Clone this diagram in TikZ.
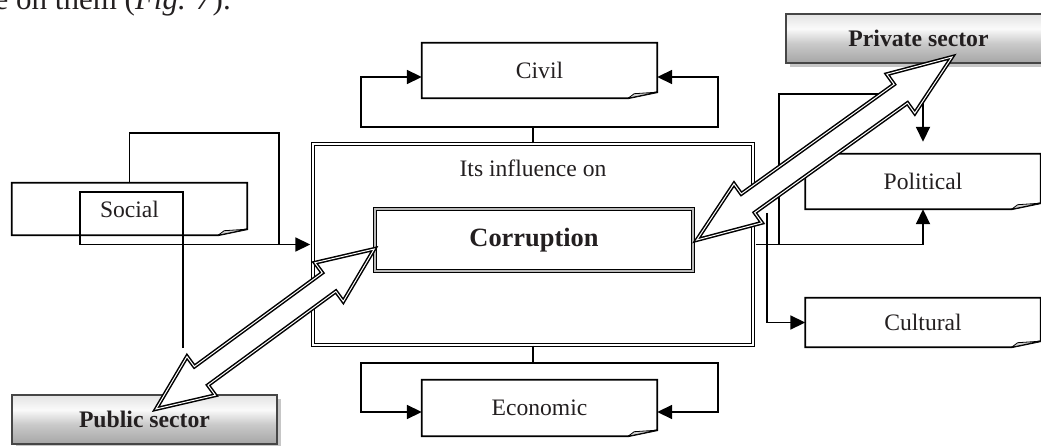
\documentclass[tikz,border=0pt]{standalone}
\usepackage{fontspec}
\setmainfont{Liberation Serif}
\usetikzlibrary{arrows.meta,calc,shadows}

\definecolor{ink}{RGB}{35,31,32}

% grey bar fill: dark at the bottom, almost white in the upper third
\pgfdeclareverticalshading{sectorfill}{100bp}{color(0bp)=(gray!70); color(25bp)=(gray!70); color(45bp)=(gray!42); color(60bp)=(white!96!gray); color(75bp)=(gray!22); color(100bp)=(gray!22)}

\tikzset{
  conn/.style={draw=black, line width=1.8pt, line join=miter},
  tip/.style={-{Triangle[length=15pt,width=14pt]}},
  twotips/.style={{Triangle[length=15pt,width=14pt]}-{Triangle[length=15pt,width=14pt]}},
  labelfont/.style={text=ink, font=\fontsize{23.6pt}{28pt}\selectfont},
  docbox/.style={minimum width=235pt, inner sep=0pt, labelfont},
  docline/.style={draw=black, line width=1.8pt, line join=miter},
  sector/.style={minimum width=265pt, minimum height=49pt, inner sep=0pt,
    shade, shading=sectorfill, draw=gray!55!black, line width=1.3pt,
    drop shadow={shadow xshift=4pt, shadow yshift=-4pt, fill=gray!45, opacity=1},
    text=ink, font=\bfseries\fontsize{23.7pt}{28pt}\selectfont},
  bigarrow/.style={fill=white, draw=black, line width=1.5pt, double=white,
    double distance=1pt, line join=miter, miter limit=20},
}

% sheet outline with a curled lower right corner around a node
\newcommand\paperoutline[1]{%
  \draw[docline] (#1.north west) -- (#1.north east) -- ([yshift=6pt]#1.south east)
    -- ([xshift=-29pt]#1.south east) -- (#1.south west) -- cycle;
  \filldraw[draw=black, line width=0.8pt, fill=gray!35, line join=miter]
    ([xshift=-29pt]#1.south east) -- ([xshift=-23pt,yshift=4.5pt]#1.south east)
    -- ([yshift=6pt]#1.south east) -- cycle;
}

% wide two-headed block arrow: from, to, head length, head half-width, shaft half-width
\newcommand\dualarrow[5]{%
  \coordinate (ha) at ($(#1)!#3!(#2)$);
  \coordinate (hb) at ($(#2)!#3!(#1)$);
  \draw[bigarrow] (#1) -- ($(ha)!#4!90:(#2)$) -- ($(ha)!#5!90:(#2)$)
    -- ($(hb)!#5!-90:(#1)$) -- ($(hb)!#4!-90:(#1)$) -- (#2)
    -- ($(hb)!#4!90:(#1)$) -- ($(hb)!#5!90:(#1)$)
    -- ($(ha)!#5!-90:(#2)$) -- ($(ha)!#4!-90:(#2)$) -- cycle;
}

\begin{document}
\begin{tikzpicture}[x=1pt, y=-1pt]
\useasboundingbox (0,0) rectangle (1041,446);
\clip (0,0) rectangle (1041,446);

% end of the preceding sentence
\node[anchor=base east, inner sep=0pt, text=ink, font=\fontsize{31pt}{36pt}\selectfont]
  (caption) at (231,10) {e on them (\textit{Fig. 7}).};

% central frame and its core
\node[draw, line width=1.4pt, double=white, double distance=1.2pt,
  minimum width=440pt, minimum height=201pt, inner sep=0pt] (infl) at (533,244.5) {};
\node[anchor=base, labelfont] (infltext) at (533,177) {Its influence on};

% spheres of influence
\node[docbox, minimum height=55pt] (civil) at (539.5,70.5) {Civil};
\node[docbox, minimum height=56pt] (econ) at (539.5,408) {Economic};
\node[docbox, minimum height=55pt] (pol) at (923,181.5) {Political};
\node[docbox, minimum height=49pt] (cult) at (923,322.5) {Cultural};
\node[docbox, minimum height=52pt] (social) at (129.5,209) {Social};

% sectors
\node[sector] (pub) at (144.5,419.5) {Public sector};
\node[sector] (priv) at (918.5,38.5) {Private sector};

% connector corners and loose ends
\coordinate (civL) at (361,127);
\coordinate (civR) at (718,127);
\coordinate (ecoL) at (361,363);
\coordinate (ecoR) at (718,363);
\coordinate (sBend) at (279,133);
\coordinate (sFree) at (183,348);
\coordinate (sCorner) at (80,192);
\coordinate (pBend) at (779,94);
\coordinate (cFree) at (767,213);

% civil loop
\draw[conn] (infl.north) -- (infl.north |- civL);
\draw[conn, twotips] ([yshift=-6.5pt]civil.west) -| (civL) -- (civR) |- ([yshift=-6.5pt]civil.east);

% economic loop
\draw[conn] (infl.south) -- (infl.south |- ecoL);
\draw[conn, twotips] ([yshift=-4pt]econ.west) -| (ecoL) -- (ecoR) |- ([yshift=-4pt]econ.east);

% social links
\draw[conn] (social.north) |- (sBend) -- (sBend |- infl.west);
\draw[conn, tip] (sFree) |- (sCorner) |- ([xshift=-2pt]infl.west);

% political links
\draw[conn, tip] ([xshift=2pt]infl.east) -| (pol.south);
\draw[conn, tip] (pBend |- infl.east) -- (pBend) -| ([yshift=12pt]pol.north);

% cultural link
\draw[conn, tip] (cFree) |- (cult.west);

% sheet outlines
\paperoutline{civil}
\paperoutline{econ}
\paperoutline{pol}
\paperoutline{cult}
\paperoutline{social}

% core box
\node[draw, line width=1.5pt, double=gray!55, double distance=1.2pt, fill=white,
  minimum width=318pt, minimum height=62pt, inner sep=0pt, text=ink,
  font=\bfseries\fontsize{26.4pt}{30pt}\selectfont] (corr) at (534,240) {Corruption};

% two-way exchange with the sectors
\coordinate (tPub) at ([xshift=11.5pt, yshift=10.5pt]pub.center);
\coordinate (tCorrL) at ([yshift=-9pt]corr.west);
\coordinate (tCorrR) at ([xshift=3pt]corr.east);
\coordinate (tPriv) at ([xshift=33.5pt, yshift=-18.5pt]priv.center);
\dualarrow{tPub}{tCorrL}{56pt}{24pt}{11.5pt}
\dualarrow{tCorrR}{tPriv}{63pt}{24pt}{11.5pt}
\end{tikzpicture}
\end{document}
